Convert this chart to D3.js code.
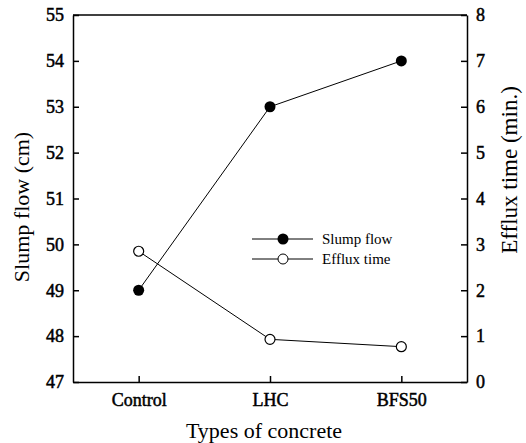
<!DOCTYPE html>
<html>
<head>
    <meta charset="UTF-8">
    <style>
        body { margin: 0; background: white; }
        text { font-family: "Liberation Serif", "Times New Roman", serif; fill: black; }
        .axis path, .axis line { stroke: black; stroke-width: 1.5px; }
        .axis text { font-size: 18px; stroke: black; stroke-width: 0.5px; font-family: "Liberation Serif", serif; }
    </style>
</head>
<body>
    <svg width="526" height="443"></svg>
    <script src="https://d3js.org/d3.v7.min.js"></script>
    <script>
        let categories = ["Control", "LHC", "BFS50"];
        let slumpFlow = [49, 53, 54];
        let effluxTime = [2.85, 0.93, 0.77];
        let leftTicks = [47, 48, 49, 50, 51, 52, 53, 54, 55];
        let rightTicks = [0, 1, 2, 3, 4, 5, 6, 7, 8];

        let margin = { top: 15, right: 59, bottom: 61, left: 73 };
        let width = 526, height = 443;

        let svg = d3.select("svg");

        let x = d3.scalePoint().domain(categories)
            .range([margin.left, width - margin.right]).padding(0.5);
        let yL = d3.scaleLinear().domain([47, 55]).range([height - margin.bottom, margin.top]);
        let yR = d3.scaleLinear().domain([0, 8]).range([height - margin.bottom, margin.top]);

        // frame: top line
        svg.append("line")
            .attr("x1", margin.left).attr("x2", width - margin.right)
            .attr("y1", margin.top).attr("y2", margin.top)
            .attr("stroke", "black").attr("stroke-width", 1.5);

        svg.append("g").attr("class", "axis")
            .attr("transform", "translate(0," + (height - margin.bottom) + ")")
            .call(d3.axisBottom(x).tickSizeInner(-6).tickSizeOuter(0).tickPadding(11));

        svg.append("g").attr("class", "axis")
            .attr("transform", "translate(" + margin.left + ",0)")
            .call(d3.axisLeft(yL).tickValues(leftTicks).tickSizeInner(-6).tickSizeOuter(0).tickPadding(9));

        svg.append("g").attr("class", "axis")
            .attr("transform", "translate(" + (width - margin.right) + ",0)")
            .call(d3.axisRight(yR).tickValues(rightTicks).tickSizeInner(-6).tickSizeOuter(0).tickPadding(9));

        // series
        let lineL = d3.line().x((d, i) => x(categories[i])).y(d => yL(d));
        let lineR = d3.line().x((d, i) => x(categories[i])).y(d => yR(d));

        svg.append("path").datum(slumpFlow).attr("d", lineL)
            .attr("fill", "none").attr("stroke", "black").attr("stroke-width", 1);
        svg.append("path").datum(effluxTime).attr("d", lineR)
            .attr("fill", "none").attr("stroke", "black").attr("stroke-width", 1);

        svg.selectAll(".ptL").data(slumpFlow).enter().append("circle")
            .attr("cx", (d, i) => x(categories[i])).attr("cy", d => yL(d))
            .attr("r", 5.5).attr("fill", "black");
        svg.selectAll(".ptR").data(effluxTime).enter().append("circle")
            .attr("cx", (d, i) => x(categories[i])).attr("cy", d => yR(d))
            .attr("r", 5).attr("fill", "white").attr("stroke", "black").attr("stroke-width", 1.2);

        // legend
        let legend = svg.append("g").attr("transform", "translate(252,239)");
        legend.append("line").attr("x1", 0).attr("x2", 61).attr("y1", 0).attr("y2", 0).attr("stroke", "black");
        legend.append("circle").attr("cx", 31).attr("cy", 0).attr("r", 5.5).attr("fill", "black");
        legend.append("text").attr("x", 70).attr("y", 5).style("font-size", "15px").text("Slump flow");
        legend.append("line").attr("x1", 0).attr("x2", 61).attr("y1", 20).attr("y2", 20).attr("stroke", "black");
        legend.append("circle").attr("cx", 31).attr("cy", 20).attr("r", 5).attr("fill", "white").attr("stroke", "black");
        legend.append("text").attr("x", 70).attr("y", 25).style("font-size", "15px").text("Efflux time");

        // titles
        svg.append("text").attr("x", 264).attr("y", 438)
            .attr("text-anchor", "middle").style("font-size", "22px").text("Types of concrete");
        svg.append("text").attr("transform", "translate(29,207) rotate(-90)")
            .attr("text-anchor", "middle").style("font-size", "22px").text("Slump flow (cm)");
        svg.append("text").attr("transform", "translate(517,170) rotate(-90)")
            .attr("text-anchor", "middle").style("font-size", "23px").text("Efflux time (min.)");
    </script>
</body>
</html>
